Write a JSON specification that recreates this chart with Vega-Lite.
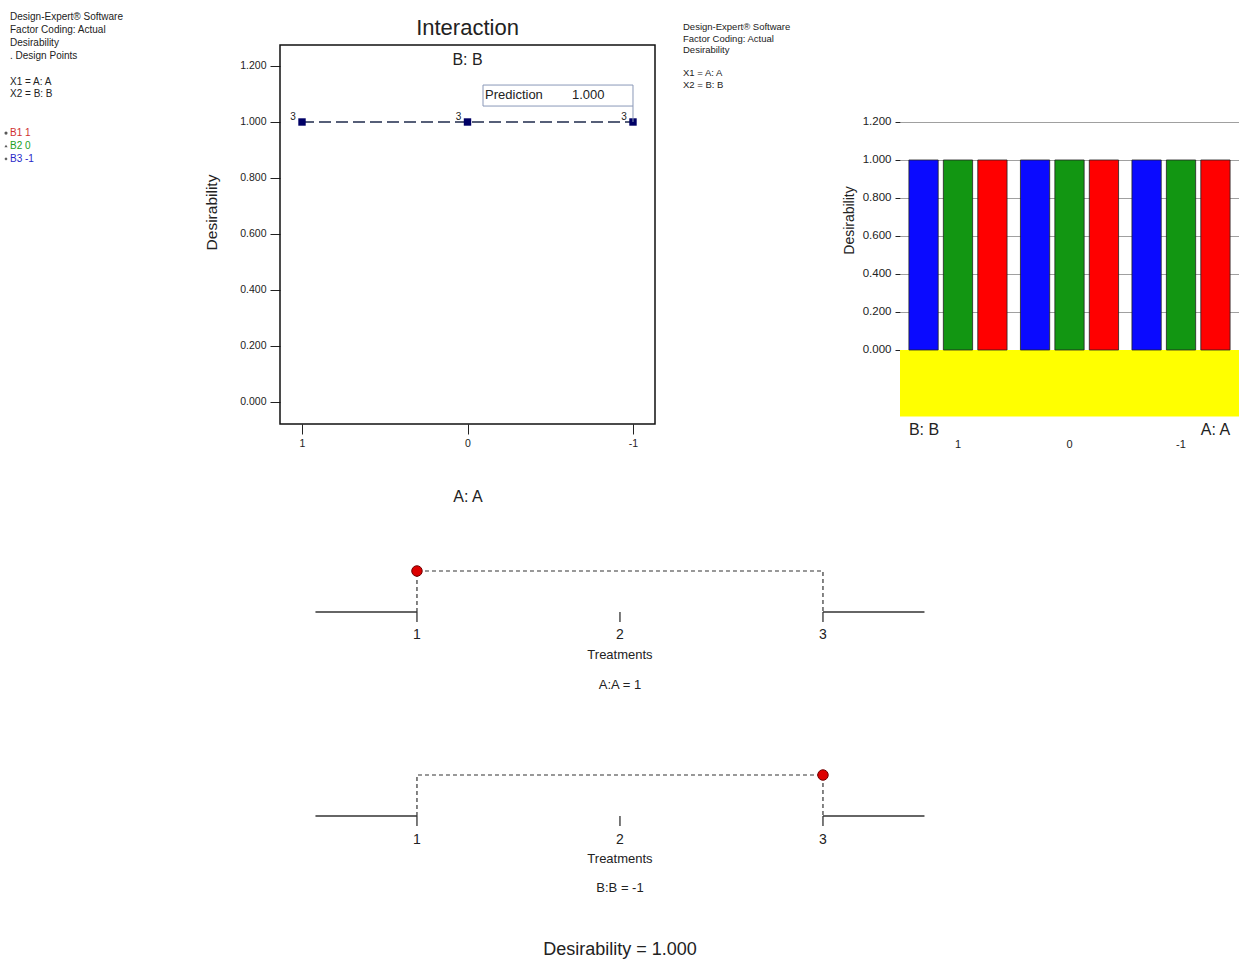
{
  "$schema": "https://vega.github.io/schema/vega-lite/v6.json",
  "padding": 0,
  "autosize": {"type": "pad"},
  "background": "white",
  "columns": 4,
  "align": "none",
  "bounds": "flush",
  "spacing": 0,
  "resolve": {"scale": {"color": "independent", "shape": "independent"}},
  "config": {
    "font": "Liberation Sans",
    "view": {"stroke": null},
    "axis": {"grid": false, "labelFont": "Liberation Sans", "titleFont": "Liberation Sans", "titleFontWeight": "normal", "labelColor": "#222", "titleColor": "#222", "tickColor": "#222", "domainColor": "#222"}
  },
  "datasets": {
    "legendText": [
      {"line": 0, "t": "Design-Expert® Software", "g": "h"},
      {"line": 1, "t": "Factor Coding: Actual", "g": "h"},
      {"line": 2, "t": "Desirability", "g": "h"},
      {"line": 3, "t": ". Design Points", "g": "h"},
      {"line": 5, "t": "X1 = A: A", "g": "h"},
      {"line": 6, "t": "X2 = B: B", "g": "h"},
      {"line": 9, "t": "B1 1", "g": "B1"},
      {"line": 10, "t": "B2 0", "g": "B2"},
      {"line": 11, "t": "B3 -1", "g": "B3"}
    ],
    "midText": [
      {"line": 0, "t": "Design-Expert® Software"},
      {"line": 1, "t": "Factor Coding: Actual"},
      {"line": 2, "t": "Desirability"},
      {"line": 4, "t": "X1 = A: A"},
      {"line": 5, "t": "X2 = B: B"}
    ],
    "interaction": [
      {"A": 1, "B": "B1", "D": 1}, {"A": 0, "B": "B1", "D": 1}, {"A": -1, "B": "B1", "D": 1},
      {"A": 1, "B": "B2", "D": 1}, {"A": 0, "B": "B2", "D": 1}, {"A": -1, "B": "B2", "D": 1},
      {"A": 1, "B": "B3", "D": 1}, {"A": 0, "B": "B3", "D": 1}, {"A": -1, "B": "B3", "D": 1}
    ],
    "points": [
      {"A": 1, "D": 1, "n": 3}, {"A": 0, "D": 1, "n": 3}, {"A": -1, "D": 1, "n": 3}
    ],
    "bars": [
      {"A": "1", "B": "-1", "D": 1}, {"A": "1", "B": "0", "D": 1}, {"A": "1", "B": "1", "D": 1},
      {"A": "0", "B": "-1", "D": 1}, {"A": "0", "B": "0", "D": 1}, {"A": "0", "B": "1", "D": 1},
      {"A": "-1", "B": "-1", "D": 1}, {"A": "-1", "B": "0", "D": 1}, {"A": "-1", "B": "1", "D": 1}
    ],
    "ramp": [
      {"T": 1, "D": 0, "o": 1}, {"T": 1, "D": 1, "o": 2}, {"T": 3, "D": 1, "o": 3}, {"T": 3, "D": 0, "o": 4}
    ],
    "treatments": [{"T": 1}, {"T": 2}, {"T": 3}]
  },
  "concat": [
    {
      "width": 280, "height": 440,
      "data": {"name": "legendText"},
      "layer": [
        {
          "mark": {"type": "text", "align": "left", "baseline": "middle", "fontSize": 10},
          "encoding": {
            "x": {"datum": 0, "type": "quantitative", "scale": {"domain": [-10, 270], "nice": false, "zero": false}, "axis": null},
            "y": {"field": "line", "type": "quantitative", "scale": {"domain": [-1.318, 32.79], "reverse": true, "nice": false, "zero": false}, "axis": null},
            "text": {"field": "t"},
            "color": {"field": "g", "type": "nominal", "scale": {"domain": ["h", "B1", "B2", "B3"], "range": ["#222222", "#d03030", "#22a022", "#2828c8"]}, "legend": null}
          }
        },
        {
          "transform": [{"filter": "datum.g !== 'h'"}],
          "mark": {"type": "point", "filled": true, "size": 10, "color": "#111"},
          "encoding": {
            "x": {"datum": -4, "type": "quantitative"},
            "y": {"field": "line", "type": "quantitative"},
            "shape": {"field": "g", "type": "nominal", "scale": {"domain": ["B1", "B2", "B3"], "range": ["circle", "triangle-up", "diamond"]}, "legend": null}
          }
        }
      ]
    },
    {
      "width": 375, "height": 424,
      "layer": [
        {
          "data": {"values": [{}]},
          "mark": {"type": "rect", "filled": false, "color": "#111", "strokeWidth": 1.5},
          "encoding": {
            "x": {"datum": -1.133, "type": "quantitative",
              "scale": {"domain": [-1.133, 1.133], "reverse": true, "nice": false, "zero": false},
              "axis": {"values": [1, 0, -1], "labelExpr": "'' + datum.value", "tickSize": 10, "labelPadding": 4, "labelFontSize": 10.5, "domain": false, "title": "A: A", "titleFontSize": 16, "titlePadding": 40}},
            "x2": {"datum": 1.133},
            "y": {"datum": -0.0786, "type": "quantitative",
              "scale": {"domain": [-0.0786, 1.4357], "nice": false, "zero": false},
              "axis": {"values": [0, 0.2, 0.4, 0.6, 0.8, 1.0, 1.2], "format": ".3f", "tickSize": 10, "labelPadding": 4, "labelFontSize": 10.5, "domain": false, "title": "Desirability", "titleFontSize": 15.5, "titlePadding": 20}},
            "y2": {"datum": 1.275}
          }
        },
        {
          "data": {"name": "interaction"},
          "mark": {"type": "line", "strokeDash": [12, 5], "strokeWidth": 1.3, "strokeOpacity": 0.8},
          "encoding": {
            "x": {"field": "A", "type": "quantitative"},
            "y": {"field": "D", "type": "quantitative"},
            "color": {"field": "B", "type": "nominal", "scale": {"domain": ["B1", "B2", "B3"], "range": ["#c83c3c", "#3c9a3c", "#3c3c8c"]}, "legend": null}
          }
        },
        {
          "data": {"name": "points"},
          "mark": {"type": "point", "shape": "square", "filled": true, "size": 55, "color": "#000066", "opacity": 1},
          "encoding": {
            "x": {"field": "A", "type": "quantitative"},
            "y": {"field": "D", "type": "quantitative"}
          }
        },
        {
          "data": {"name": "points"},
          "mark": {"type": "text", "dx": -9, "dy": -5, "fontSize": 10, "color": "#222"},
          "encoding": {
            "x": {"field": "A", "type": "quantitative"},
            "y": {"field": "D", "type": "quantitative"},
            "text": {"field": "n"}
          }
        },
        {
          "data": {"values": [{"t": "Interaction"}]},
          "mark": {"type": "text", "fontSize": 22, "color": "#222", "baseline": "middle"},
          "encoding": {"x": {"datum": 0, "type": "quantitative"}, "y": {"datum": 1.336, "type": "quantitative"}, "text": {"field": "t"}}
        },
        {
          "data": {"values": [{"t": "B: B"}]},
          "mark": {"type": "text", "fontSize": 16, "color": "#222", "baseline": "middle"},
          "encoding": {"x": {"datum": 0, "type": "quantitative"}, "y": {"datum": 1.221, "type": "quantitative"}, "text": {"field": "t"}}
        },
        {
          "data": {"values": [{}]},
          "mark": {"type": "rect", "fill": "white", "stroke": "#8a98b8", "strokeWidth": 1},
          "encoding": {"x": {"datum": -0.0937, "type": "quantitative"}, "x2": {"datum": -1.0}, "y": {"datum": 1.057, "type": "quantitative"}, "y2": {"datum": 1.132}}
        },
        {
          "data": {"values": [{}]},
          "mark": {"type": "rule", "color": "#8a98b8", "strokeWidth": 1},
          "encoding": {"x": {"datum": -1.0, "type": "quantitative"}, "y": {"datum": 1.0, "type": "quantitative"}, "y2": {"datum": 1.057}}
        },
        {
          "data": {"values": [{"t": "Prediction"}]},
          "mark": {"type": "text", "fontSize": 13, "align": "left", "baseline": "middle", "color": "#222"},
          "encoding": {"x": {"datum": -0.106, "type": "quantitative"}, "y": {"datum": 1.096, "type": "quantitative"}, "text": {"field": "t"}}
        },
        {
          "data": {"values": [{"t": "1.000"}]},
          "mark": {"type": "text", "fontSize": 13, "align": "left", "baseline": "middle", "color": "#222"},
          "encoding": {"x": {"datum": -0.631, "type": "quantitative"}, "y": {"datum": 1.096, "type": "quantitative"}, "text": {"field": "t"}}
        }
      ]
    },
    {
      "width": 245, "height": 440,
      "data": {"name": "midText"},
      "mark": {"type": "text", "align": "left", "baseline": "middle", "fontSize": 9.5, "color": "#222"},
      "encoding": {
        "x": {"datum": 0, "type": "quantitative", "scale": {"domain": [-28, 217], "nice": false, "zero": false}, "axis": null},
        "y": {"field": "line", "type": "quantitative", "scale": {"domain": [-2.328, 35.603], "reverse": true, "nice": false, "zero": false}, "axis": null},
        "text": {"field": "t"}
      }
    },
    {
      "width": 339, "height": 440,
      "layer": [
        {
          "data": {"values": [{}]},
          "mark": {"type": "rect", "color": "#ffff00"},
          "encoding": {
            "y": {"datum": -0.35, "type": "quantitative"},
            "y2": {"datum": 0}
          }
        },
        {
          "data": {"name": "bars"},
          "mark": {"type": "bar", "stroke": "#222", "strokeWidth": 0.8},
          "encoding": {
            "x": {"field": "A", "type": "nominal", "sort": ["1", "0", "-1"],
              "scale": {"paddingInner": 0.12, "paddingOuter": 0.08},
              "axis": {"labelAngle": 0, "labelFontSize": 11, "ticks": false, "domain": false, "title": null, "labelPadding": 0, "offset": -2}},
            "xOffset": {"field": "B", "type": "nominal", "sort": ["-1", "0", "1"], "scale": {"paddingInner": 0.15}},
            "y": {"field": "D", "type": "quantitative",
              "scale": {"domain": [-0.4737, 1.8421], "nice": false, "zero": false},
              "axis": {"values": [0, 0.2, 0.4, 0.6, 0.8, 1.0, 1.2], "format": ".3f", "tickSize": 5, "labelPadding": 4, "labelFontSize": 11.5, "domain": false, "grid": true, "gridColor": "#777", "gridWidth": 0.7, "title": "Desirability", "titleFontSize": 14, "titlePadding": 6}},
            "y2": {"datum": 0},
            "color": {"field": "B", "type": "nominal", "scale": {"domain": ["1", "0", "-1"], "range": ["#ff0000", "#129612", "#0a0aff"]}, "legend": null}
          }
        },
        {
          "data": {"values": [{"t": "B: B"}]},
          "mark": {"type": "text", "fontSize": 16, "align": "left", "baseline": "middle", "color": "#222"},
          "encoding": {"x": {"datum": "1", "type": "nominal", "bandPosition": 0}, "y": {"datum": -0.42, "type": "quantitative"}, "text": {"field": "t"}}
        },
        {
          "data": {"values": [{"t": "A: A"}]},
          "mark": {"type": "text", "fontSize": 16, "align": "right", "baseline": "middle", "color": "#222"},
          "encoding": {"x": {"datum": "-1", "type": "nominal", "bandPosition": 1}, "y": {"datum": -0.42, "type": "quantitative"}, "text": {"field": "t"}}
        }
      ]
    },
    {
      "width": 280, "height": 172,
      "layer": [
        {
          "data": {"name": "ramp"},
          "mark": {"type": "line", "strokeDash": [4, 3], "color": "#333", "strokeWidth": 1.2},
          "encoding": {
            "x": {"field": "T", "type": "quantitative", "scale": {"domain": [-1.054, 0.3253], "nice": false, "zero": false}, "axis": null},
            "y": {"field": "D", "type": "quantitative", "scale": {"domain": [0, 4.195], "nice": false, "zero": false}, "axis": null},
            "order": {"field": "o"}
          }
        },
        {
          "data": {"values": [{}]},
          "mark": {"type": "rule", "color": "#333", "strokeWidth": 1.3},
          "encoding": {"x": {"datum": 0.5, "type": "quantitative"}, "x2": {"datum": 1}, "y": {"datum": 0, "type": "quantitative"}}
        },
        {
          "data": {"values": [{}]},
          "mark": {"type": "rule", "color": "#333", "strokeWidth": 1.3},
          "encoding": {"x": {"datum": 3, "type": "quantitative"}, "x2": {"datum": 3.5}, "y": {"datum": 0, "type": "quantitative"}}
        },
        {
          "data": {"name": "treatments"},
          "mark": {"type": "rule", "color": "#333", "strokeWidth": 1.3},
          "encoding": {"x": {"field": "T", "type": "quantitative"}, "y": {"datum": 0, "type": "quantitative"}, "y2": {"datum": -0.244}}
        },
        {
          "data": {"name": "treatments"},
          "mark": {"type": "text", "fontSize": 14, "baseline": "middle", "color": "#222"},
          "encoding": {"x": {"field": "T", "type": "quantitative"}, "y": {"datum": -0.56, "type": "quantitative"}, "text": {"field": "T"}}
        },
        {
          "data": {"values": [{"T": 1, "D": 1}]},
          "mark": {"type": "point", "filled": true, "size": 110, "color": "#dd0000", "stroke": "#700000", "strokeWidth": 1, "opacity": 1},
          "encoding": {"x": {"field": "T", "type": "quantitative"}, "y": {"field": "D", "type": "quantitative"}}
        },
        {
          "data": {"values": [{"t": "Treatments"}]},
          "mark": {"type": "text", "fontSize": 13, "baseline": "middle", "color": "#222"},
          "encoding": {"x": {"datum": 2, "type": "quantitative"}, "y": {"datum": -1.049, "type": "quantitative"}, "text": {"field": "t"}}
        },
        {
          "data": {"values": [{"t": "A:A = 1"}]},
          "mark": {"type": "text", "fontSize": 13, "baseline": "middle", "color": "#222"},
          "encoding": {"x": {"datum": 2, "type": "quantitative"}, "y": {"datum": -1.78, "type": "quantitative"}, "text": {"field": "t"}}
        }
      ]
    },
    {"width": 0, "height": 0, "data": {"values": []}, "mark": "text", "encoding": {}},
    {"width": 0, "height": 0, "data": {"values": []}, "mark": "text", "encoding": {}},
    {"width": 0, "height": 0, "data": {"values": []}, "mark": "text", "encoding": {}},
    {
      "width": 280, "height": 204,
      "layer": [
        {
          "data": {"name": "ramp"},
          "mark": {"type": "line", "strokeDash": [4, 3], "color": "#333", "strokeWidth": 1.2},
          "encoding": {
            "x": {"field": "T", "type": "quantitative", "scale": {"domain": [-1.054, 0.3253], "nice": false, "zero": false}, "axis": null},
            "y": {"field": "D", "type": "quantitative", "scale": {"domain": [0, 4.976], "nice": false, "zero": false}, "axis": null},
            "order": {"field": "o"}
          }
        },
        {
          "data": {"values": [{}]},
          "mark": {"type": "rule", "color": "#333", "strokeWidth": 1.3},
          "encoding": {"x": {"datum": 0.5, "type": "quantitative"}, "x2": {"datum": 1}, "y": {"datum": 0, "type": "quantitative"}}
        },
        {
          "data": {"values": [{}]},
          "mark": {"type": "rule", "color": "#333", "strokeWidth": 1.3},
          "encoding": {"x": {"datum": 3, "type": "quantitative"}, "x2": {"datum": 3.5}, "y": {"datum": 0, "type": "quantitative"}}
        },
        {
          "data": {"name": "treatments"},
          "mark": {"type": "rule", "color": "#333", "strokeWidth": 1.3},
          "encoding": {"x": {"field": "T", "type": "quantitative"}, "y": {"datum": 0, "type": "quantitative"}, "y2": {"datum": -0.244}}
        },
        {
          "data": {"name": "treatments"},
          "mark": {"type": "text", "fontSize": 14, "baseline": "middle", "color": "#222"},
          "encoding": {"x": {"field": "T", "type": "quantitative"}, "y": {"datum": -0.58, "type": "quantitative"}, "text": {"field": "T"}}
        },
        {
          "data": {"values": [{"T": 3, "D": 1}]},
          "mark": {"type": "point", "filled": true, "size": 110, "color": "#dd0000", "stroke": "#700000", "strokeWidth": 1, "opacity": 1},
          "encoding": {"x": {"field": "T", "type": "quantitative"}, "y": {"field": "D", "type": "quantitative"}}
        },
        {
          "data": {"values": [{"t": "Treatments"}]},
          "mark": {"type": "text", "fontSize": 13, "baseline": "middle", "color": "#222"},
          "encoding": {"x": {"datum": 2, "type": "quantitative"}, "y": {"datum": -1.049, "type": "quantitative"}, "text": {"field": "t"}}
        },
        {
          "data": {"values": [{"t": "B:B = -1"}]},
          "mark": {"type": "text", "fontSize": 13, "baseline": "middle", "color": "#222"},
          "encoding": {"x": {"datum": 2, "type": "quantitative"}, "y": {"datum": -1.756, "type": "quantitative"}, "text": {"field": "t"}}
        },
        {
          "data": {"values": [{"t": "Desirability = 1.000"}]},
          "mark": {"type": "text", "fontSize": 18, "baseline": "middle", "color": "#222"},
          "encoding": {"x": {"datum": 2, "type": "quantitative"}, "y": {"datum": -3.27, "type": "quantitative"}, "text": {"field": "t"}}
        }
      ]
    }
  ]
}
